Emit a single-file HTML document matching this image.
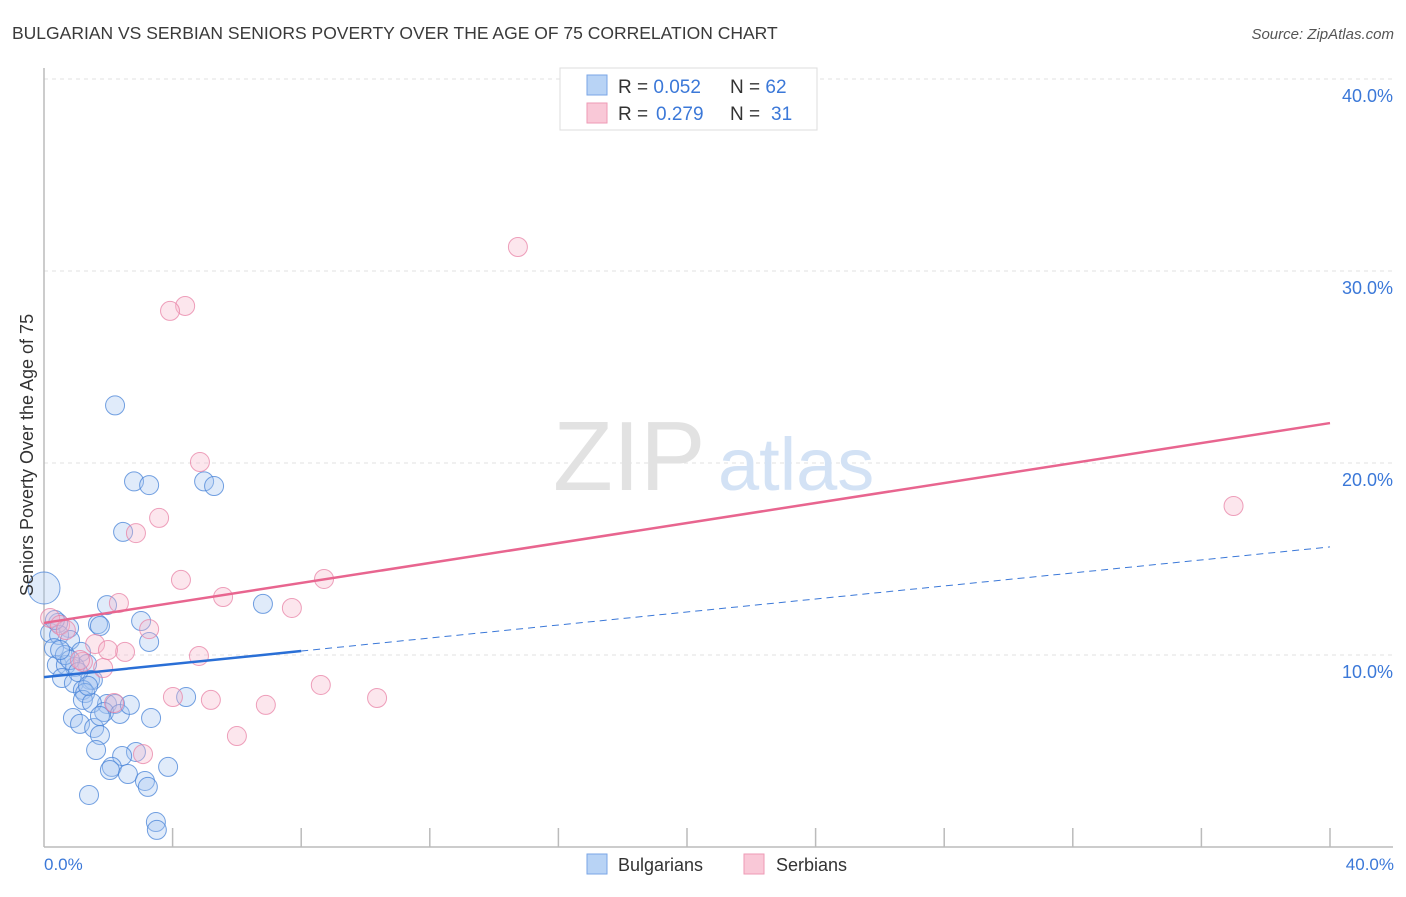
<!DOCTYPE html>
<html><head><meta charset="utf-8"><style>
body{margin:0;background:#fff;font-family:"Liberation Sans",sans-serif;}
svg text{font-family:"Liberation Sans",sans-serif;}
</style></head><body>
<svg id="chart" width="1406" height="892">
<text x="12" y="39" font-size="17.5" fill="#3a3a3a">BULGARIAN VS SERBIAN SENIORS POVERTY OVER THE AGE OF 75 CORRELATION CHART</text>
<text x="1394" y="39" font-size="15" fill="#555" font-style="italic" text-anchor="end">Source: ZipAtlas.com</text>
<g id="grid"></g>
<g><text x="553" y="490" font-size="98" font-family="Liberation Serif" fill="#e2e2e2">ZIP</text><text x="718" y="490" font-size="74" fill="#d3e2f5">atlas</text></g>
<line x1="44" y1="68" x2="44" y2="847" stroke="#bbb" stroke-width="1.5"/>
<line x1="44" y1="847" x2="1393" y2="847" stroke="#bbb" stroke-width="1.5"/>
<g id="xticks"></g>
<g id="pts"></g>
<g id="trends"></g>
<text x="33" y="455" font-size="18" fill="#333" text-anchor="middle" transform="rotate(-90 33 455)">Seniors Poverty Over the Age of 75</text>
<text x="44" y="870" font-size="17" fill="#3b78d8">0.0%</text>
<text x="1394" y="870" font-size="17" fill="#3b78d8" text-anchor="end">40.0%</text>
<g>
<rect x="560" y="68" width="257" height="62" fill="#fff" stroke="#ddd"/>
<rect x="587" y="75" width="20" height="20" fill="#b8d3f5" stroke="#7aa6e6"/>
<rect x="587" y="103" width="20" height="20" fill="#f9c8d7" stroke="#ee9ab5"/>
<text x="618" y="93" font-size="19" fill="#333">R = <tspan fill="#3b78d8">0.052</tspan><tspan x="730">N = </tspan><tspan fill="#3b78d8">62</tspan></text>
<text x="618" y="120" font-size="19" fill="#333">R = <tspan fill="#3b78d8" x="656">0.279</tspan><tspan x="730">N = </tspan><tspan fill="#3b78d8" x="771">31</tspan></text>
</g>
<g>
<rect x="587" y="854" width="20" height="20" fill="#b8d3f5" stroke="#7aa6e6"/>
<text x="618" y="871" font-size="18" fill="#333">Bulgarians</text>
<rect x="744" y="854" width="20" height="20" fill="#f9c8d7" stroke="#ee9ab5"/>
<text x="776" y="871" font-size="18" fill="#333">Serbians</text>
</g>
</svg>
<script>
const yTicks=[10,20,30,40];
const yTickLabels=["10.0%","20.0%","30.0%","40.0%"];
const xTicks=[4,8,12,16,20,24,28,32,36,40];
const bulgX=[2.21,2.80,3.27,4.98,5.29,2.46,0,1.96,6.81,3.02,1.68,1.74,0.78,0.44,0.19,0.47,0.81,3.27,0.31,1.15,0.40,0.68,1.34,0.96,0.56,1.43,1.52,0.93,1.21,1.28,1.21,1.96,2.21,1.49,1.87,2.36,0.90,3.33,1.12,1.56,1.74,1.62,4.42,2.86,2.43,2.11,2.05,2.61,3.86,3.14,3.23,1.40,3.48,3.51,0.65,0.81,0.50,1.06,1.37,1.74,2.67,0.34];
const bulgY=[23.0,19.04,18.85,19.04,18.8,16.41,13.49,12.6,12.66,11.77,11.61,11.51,11.41,11.67,11.15,11.04,10.78,10.68,10.36,10.16,9.48,9.48,9.53,9.38,8.8,8.7,8.7,8.54,8.18,8.02,7.66,7.45,7.45,7.5,7.03,6.93,6.72,6.72,6.41,6.2,5.83,5.05,7.81,4.95,4.74,4.17,4.01,3.8,4.17,3.44,3.13,2.71,1.3,0.89,10.0,9.74,10.26,9.11,8.39,6.82,7.4,11.82];
const serbX=[14.74,4.39,3.92,4.85,3.58,2.86,4.26,8.71,5.57,2.33,7.71,3.27,1.59,2.52,4.82,1.84,1.21,4.01,5.19,6.90,8.61,10.36,6.00,3.08,2.18,37.0,0.19,0.50,1.12,0.68,1.99];
const serbY=[31.25,28.18,27.92,20.05,17.14,16.35,13.91,13.96,13.02,12.71,12.45,11.35,10.57,10.16,9.95,9.32,9.64,7.81,7.66,7.4,8.44,7.76,5.78,4.84,7.5,17.76,11.93,11.56,9.74,11.3,10.26];
const bulgTrend=[8.85,15.63];
const serbTrend=[11.67,22.08];
const bulgSolidEnd=8;
const NS="http://www.w3.org/2000/svg";
const X=v=>44+v/40*1286;
const Y=v=>847-v*19.2;
function mk(tag,attrs,parent){const e=document.createElementNS(NS,tag);for(const k in attrs)e.setAttribute(k,attrs[k]);document.getElementById(parent).appendChild(e);return e;}
yTicks.forEach((t,i)=>{
 const l=mk('line',{x1:44,x2:1393,y1:Y(t),y2:Y(t),stroke:'#e2e2e2','stroke-dasharray':'4,4'},'grid');
 
 
 const tx=mk('text',{x:1393,y:Y(t)+23,'font-size':18,fill:'#3b78d8','text-anchor':'end'},'grid');
 tx.textContent=yTickLabels[i];
 
 
});
xTicks.forEach(t=>{
 const l=mk('line',{x1:X(t),x2:X(t),y1:828,y2:847,stroke:'#bbb','stroke-width':1.5},'xticks');
 
 
});
bulgX.forEach((x,i)=>{
 const c=mk('circle',{cx:X(x),cy:Y(bulgY[i]),r:x===0?16:9.5,fill:'rgba(165,198,240,0.35)',stroke:'rgba(70,130,215,0.75)','stroke-width':1},'pts');
 
 
});
serbX.forEach((x,i)=>{
 const c=mk('circle',{cx:X(x),cy:Y(serbY[i]),r:9.5,fill:'rgba(246,182,204,0.35)',stroke:'rgba(232,130,165,0.75)','stroke-width':1},'pts');
 
 
});
const by=x=>bulgTrend[0]+(bulgTrend[1]-bulgTrend[0])*x/40;
let l=mk('line',{x1:X(bulgSolidEnd),y1:Y(by(bulgSolidEnd)),x2:X(40),y2:Y(bulgTrend[1]),stroke:'#3b78d8','stroke-width':1,'stroke-dasharray':'7,5'},'trends');


l=mk('line',{x1:X(0),y1:Y(bulgTrend[0]),x2:X(bulgSolidEnd),y2:Y(by(bulgSolidEnd)),stroke:'#2a6fd6','stroke-width':2.5},'trends');


l=mk('line',{x1:X(0),y1:Y(serbTrend[0]),x2:X(40),y2:Y(serbTrend[1]),stroke:'#e8658f','stroke-width':2.5},'trends');


</script>
</body></html>
